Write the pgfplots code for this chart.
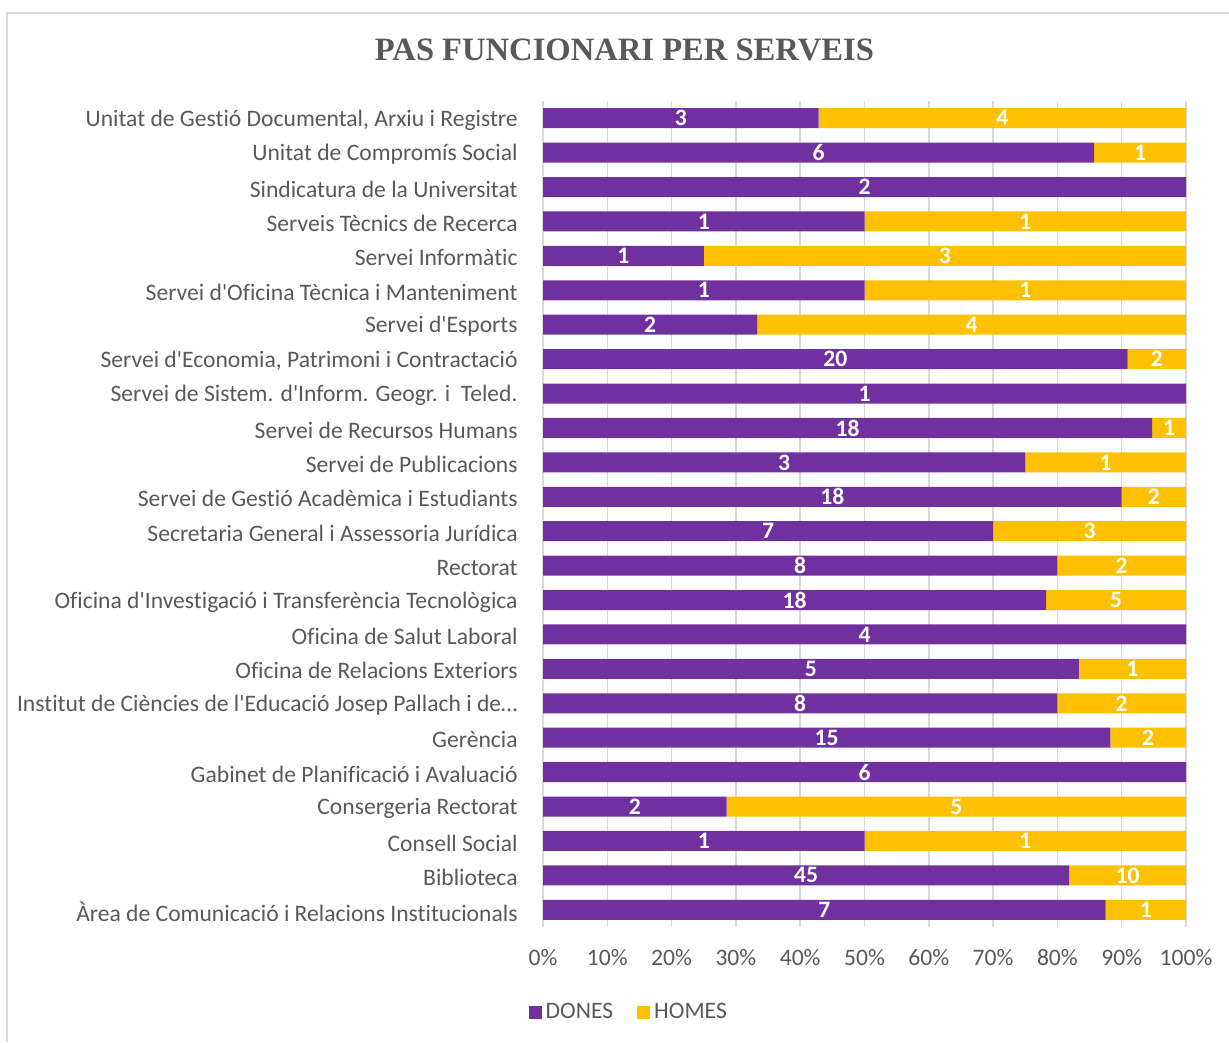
\documentclass[border=0pt]{standalone}
\usepackage{pgfplots}
\pgfplotsset{compat=1.18}
\usepackage{pgfplotstable}
\usepackage{fontspec}
\setmainfont{Carlito}[Ligatures={NoCommon}]
\newfontfamily\titlefont{Liberation Serif}
\definecolor{dones}{HTML}{7030A0}
\definecolor{homes}{HTML}{FFC000}
\definecolor{txt}{HTML}{595959}
\definecolor{grd}{HTML}{D9D9D9}
\newcommand{\q}{\textquotesingle}

\pgfplotstableread{
y d h
0 7 1
1 45 10
2 1 1
3 2 5
4 6 0
5 15 2
6 8 2
7 5 1
8 4 0
9 18 5
10 8 2
11 7 3
12 18 2
13 3 1
14 18 1
15 1 0
16 20 2
17 2 4
18 1 1
19 1 3
20 1 1
21 2 0
22 6 1
23 3 4
}\datatable

\begin{document}
\begin{tikzpicture}
\path[use as bounding box] (0,0) rectangle (614.5pt,521pt);
\draw[grd, line width=1pt] (3.5pt,0) -- (3.5pt,514.5pt) -- (614.5pt,514.5pt);
\begin{axis}[
  at={(271.5pt,57.5pt)}, anchor=south west,
  scale only axis, width=321.5pt, height=413pt,
  xbar stacked, bar width=10pt,
  xmin=0, xmax=100, ymin=-0.5, ymax=23.5,
  axis line style={draw=none},
  major tick length=0pt,
  xtick={0,10,20,30,40,50,60,70,80,90,100},
  xticklabel={\pgfmathprintnumber{\tick}\%},
  xmajorgrids, grid style={grd, line width=0.75pt},
  ytick={0,1,2,3,4,5,6,7,8,9,10,11,12,13,14,15,16,17,18,19,20,21,22,23},
  yticklabels={
    {Àrea de Comunicació i Relacions Institucionals},
    {Biblioteca},
    {Consell Social},
    {Consergeria Rectorat},
    {Gabinet de Planificació i Avaluació},
    {Gerència},
    {Institut de Ciències de l\q Educació Josep Pallach i de…},
    {Oficina de Relacions Exteriors},
    {Oficina de Salut Laboral},
    {Oficina d\q Investigació i Transferència Tecnològica},
    {Rectorat},
    {Secretaria General i Assessoria Jurídica},
    {Servei de Gestió Acadèmica i Estudiants},
    {Servei de Publicacions},
    {Servei de Recursos Humans},
    {Servei de Sistem. d\q Inform. Geogr. i~~Teled.},
    {Servei d\q Economia, Patrimoni i Contractació},
    {Servei d\q Esports},
    {Servei d\q Oficina Tècnica i Manteniment},
    {Servei Informàtic},
    {Serveis Tècnics de Recerca},
    {Sindicatura de la Universitat},
    {Unitat de Compromís Social},
    {Unitat de Gestió Documental, Arxiu i Registre}},
  tick label style={font=\fontsize{11.8pt}{13pt}\selectfont, text=txt},
  yticklabel style={inner sep=0pt, xshift=-12.5pt, yshift=-1pt},
  xticklabel style={inner sep=0pt, yshift=-11pt},
  /pgf/number format/assume math mode=true,
  legend style={at={(0.135,-0.103)}, anchor=center, draw=none, fill=none,
    legend columns=2, font=\fontsize{11.8pt}{13pt}\selectfont, text=txt,
    /tikz/every even column/.append style={column sep=10pt}},
  legend image code/.code={\fill[#1] (0pt,-3.25pt) rectangle (6.5pt,3.25pt);},
  nodes near coords={\ifnum\pgfplotspointmeta=0 \else\pgfplotspointmeta\fi},
  point meta=explicit symbolic,
  every node near coord/.append style={font=\fontsize{11.8pt}{13pt}\selectfont\bfseries,
    text=white, anchor=center},
]
\addplot[fill=dones, draw=none]
  table[x expr={100*\thisrow{d}/(\thisrow{d}+\thisrow{h})}, y=y, meta=d] {\datatable};
\addplot[fill=homes, draw=none]
  table[x expr={100*\thisrow{h}/(\thisrow{d}+\thisrow{h})}, y=y, meta=h] {\datatable};
\legend{DONES, HOMES}
\end{axis}
\node[font=\titlefont\bfseries\fontsize{16.3pt}{19pt}\selectfont, text=txt, anchor=base]
  at (312.25pt,490.5pt) {PAS FUNCIONARI PER SERVEIS};
\end{tikzpicture}
\end{document}
